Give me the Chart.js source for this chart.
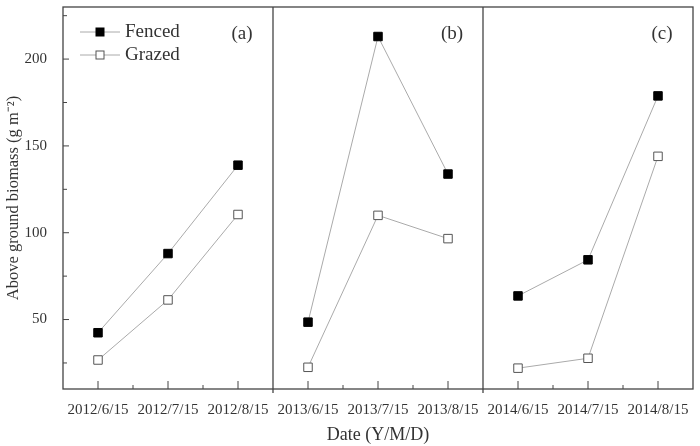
<!DOCTYPE html>
<html>
<head>
<meta charset="utf-8">
<script src="https://cdn.jsdelivr.net/npm/chart.js@4/dist/chart.umd.min.js"></script>
<style>
  html, body { margin: 0; padding: 0; background: #fff; }
  #wrap { width: 700px; height: 446px; }
</style>
</head>
<body>
<div id="wrap"><canvas id="biomass"></canvas></div>
<script>
const dates = ['2012/6/15', '2012/7/15', '2012/8/15', '2013/6/15', '2013/7/15', '2013/8/15', '2014/6/15', '2014/7/15', '2014/8/15'];
const fenced = [42.4, 88, 138.9, 48.5, 213, 133.8, 63.6, 84.4, 178.8];
const grazed = [26.7, 61.3, 110.5, 22.5, 110, 96.6, 22, 27.7, 144];
const panelLabels = ['(a)', '(b)', '(c)'];
const yTicks = [50, 100, 150, 200];
const yMinorTicks = [25, 75, 125, 175, 225];

const serif = '"Liberation Serif", "Times New Roman", serif';
const inkColor = '#333';
const lineGray = '#aaa';

// no line between the last point of one panel and the first of the next
const panelBreak = ctx => (ctx.p0DataIndex % 3 === 2 ? 'transparent' : undefined);

const framePlugin = {
  id: 'frame',
  afterDraw(chart) {
    const ctx = chart.ctx;
    const area = chart.chartArea;
    const x = chart.scales.x;
    const y = chart.scales.y;
    ctx.save();
    ctx.strokeStyle = '#444';
    ctx.lineWidth = 1.3;
    ctx.strokeRect(area.left, area.top, area.right - area.left, area.bottom - area.top);

    // panel dividers
    [2.5, 5.5].forEach(i => {
      const px = (x.getPixelForValue(Math.floor(i)) + x.getPixelForValue(Math.ceil(i))) / 2;
      ctx.beginPath();
      ctx.moveTo(px, area.top);
      ctx.lineTo(px, area.bottom + 4);
      ctx.stroke();
    });

    // inward ticks on x
    ctx.lineWidth = 1;
    dates.forEach((d, i) => {
      const px = x.getPixelForValue(i);
      ctx.beginPath();
      ctx.moveTo(px, area.bottom);
      ctx.lineTo(px, area.bottom - 8);
      ctx.stroke();
      if (i % 3 !== 2) {
        const mx = (px + x.getPixelForValue(i + 1)) / 2;
        ctx.beginPath();
        ctx.moveTo(mx, area.bottom);
        ctx.lineTo(mx, area.bottom - 4);
        ctx.stroke();
      }
    });

    // inward ticks on y
    yTicks.forEach(v => {
      const py = y.getPixelForValue(v);
      ctx.beginPath();
      ctx.moveTo(area.left, py);
      ctx.lineTo(area.left + 6, py);
      ctx.stroke();
    });
    yMinorTicks.forEach(v => {
      const py = y.getPixelForValue(v);
      ctx.beginPath();
      ctx.moveTo(area.left, py);
      ctx.lineTo(area.left + 4, py);
      ctx.stroke();
    });

    // panel labels
    ctx.fillStyle = inkColor;
    ctx.font = '19px ' + serif;
    ctx.textAlign = 'center';
    ctx.textBaseline = 'middle';
    panelLabels.forEach((lab, p) => {
      const right = (x.getPixelForValue(p * 3 + 2) + x.getPixelForValue(p * 3 + 3)) / 2;
      const edge = p === 2 ? area.right : right;
      ctx.fillText(lab, edge - 31, area.top + 27);
    });

    // legend
    const items = [
      { label: 'Fenced', fill: '#000', stroke: '#000', y: area.top + 25 },
      { label: 'Grazed', fill: '#fff', stroke: '#555', y: area.top + 48 }
    ];
    ctx.textAlign = 'left';
    items.forEach(it => {
      ctx.strokeStyle = lineGray;
      ctx.lineWidth = 1;
      ctx.beginPath();
      ctx.moveTo(area.left + 17, it.y);
      ctx.lineTo(area.left + 57, it.y);
      ctx.stroke();
      ctx.fillStyle = it.fill;
      ctx.strokeStyle = it.stroke;
      ctx.fillRect(area.left + 33, it.y - 4, 8, 8);
      ctx.strokeRect(area.left + 33, it.y - 4, 8, 8);
      ctx.fillStyle = inkColor;
      ctx.fillText(it.label, area.left + 62, it.y);
    });
    ctx.restore();
  }
};

const biomassCanvas = document.querySelector('#biomass');
const biomassChart = new Chart(biomassCanvas, {
  type: 'line',
  data: {
    labels: dates,
    datasets: [{
      label: 'Fenced',
      data: fenced,
      borderColor: lineGray,
      borderWidth: 1,
      pointStyle: 'rect',
      pointRadius: 6,
      pointBackgroundColor: '#000',
      pointBorderColor: '#000',
      pointBorderWidth: 1,
      segment: { borderColor: panelBreak }
    }, {
      label: 'Grazed',
      data: grazed,
      borderColor: lineGray,
      borderWidth: 1,
      pointStyle: 'rect',
      pointRadius: 6,
      pointBackgroundColor: '#fff',
      pointBorderColor: '#555',
      pointBorderWidth: 1,
      segment: { borderColor: panelBreak }
    }]
  },
  options: {
    responsive: true,
    maintainAspectRatio: false,
    animation: false,
    layout: { padding: { top: 3, right: 4, left: 0, bottom: 0 } },
    plugins: {
      legend: { display: false },
      tooltip: { enabled: false }
    },
    scales: {
      x: {
        type: 'category',
        offset: true,
        grid: { display: false },
        border: { display: false },
        ticks: {
          color: inkColor,
          font: { family: serif, size: 15 },
          padding: 4,
          maxRotation: 0,
          autoSkip: false
        },
        title: {
          display: true,
          text: 'Date (Y/M/D)',
          color: inkColor,
          font: { family: serif, size: 18 },
          padding: { top: 4, bottom: 0 }
        },
        afterFit: scale => {
          scale.height = 57;
          scale.paddingLeft = 0;
          scale.paddingRight = 0;
        }
      },
      y: {
        min: 10,
        max: 230,
        grid: { display: false },
        border: { display: false },
        afterBuildTicks: scale => { scale.ticks = yTicks.map(v => ({ value: v })); },
        ticks: {
          color: inkColor,
          font: { family: serif, size: 15 },
          padding: 8
        },
        title: {
          display: true,
          text: 'Above ground biomass (g m⁻²)',
          color: inkColor,
          font: { family: serif, size: 16.5 },
          padding: { top: 4, bottom: 0 }
        },
        afterFit: scale => {
          scale.width = 63;
          scale.paddingTop = 0;
          scale.paddingBottom = 0;
        }
      }
    }
  },
  plugins: [framePlugin]
});
</script>
</body>
</html>
